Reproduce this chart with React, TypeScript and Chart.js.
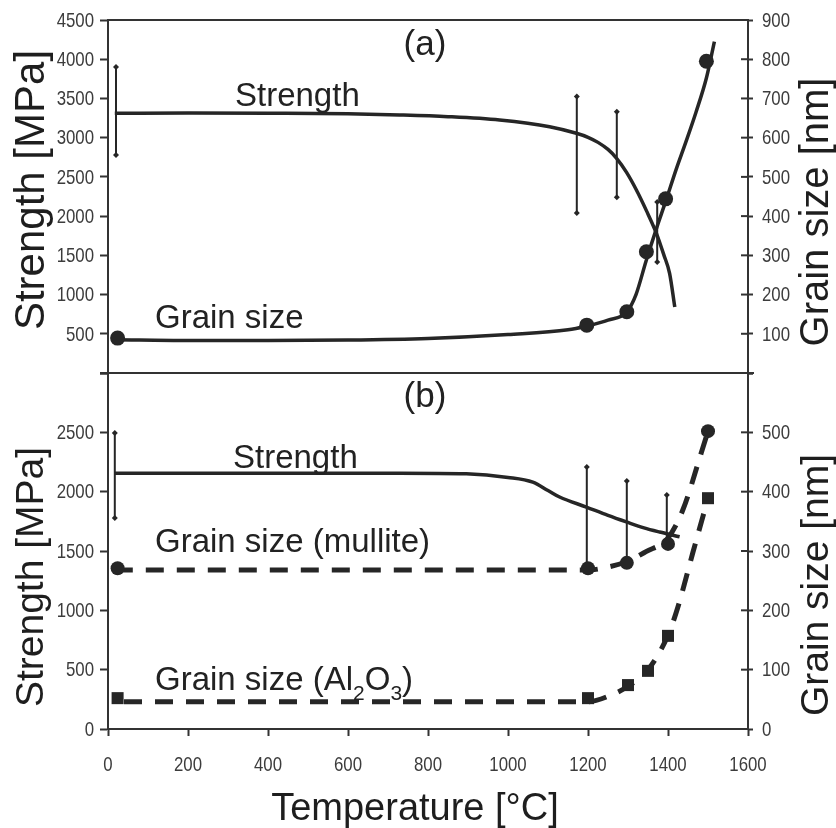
import { useEffect, useRef } from "react";
import { Chart, registerables } from "chart.js";

Chart.register(...registerables);

// Temperature axis (°C)
const temperatureMin = 0;
const temperatureMax = 1600;
const temperatureStep = 200;

// Panel (a): strength [MPa] on the left axis, grain size [nm] on the right axis
const strengthFitA: [number, number][] = [
  [17, 3310], [200, 3315], [400, 3312], [600, 3305], [729, 3290], [850, 3268],
  [979, 3225], [1104, 3140], [1171, 3056], [1200, 3005], [1225, 2940], [1250, 2850],
  [1271, 2740], [1296, 2560], [1321, 2333], [1346, 2070], [1371, 1781], [1390, 1500],
  [1404, 1271], [1417, 840],
];
// [temperature, low, high]
const strengthErrA: [number, number, number][] = [
  [20, 2780, 3900], [1172, 2040, 3525], [1272, 2240, 3330], [1373, 1415, 2180],
];
const grainFitA: [number, number][] = [
  [17, 85], [200, 83], [400, 83], [600, 84], [800, 88], [1000, 98], [1150, 110],
  [1197, 120], [1250, 135], [1297, 156], [1320, 200], [1345, 285], [1370, 365],
  [1395, 440], [1420, 518], [1445, 590], [1470, 665], [1496, 752], [1516, 845],
];
const grainPtsA: [number, number][] = [
  [24, 89], [1197, 122], [1297, 156], [1346, 309], [1394, 444], [1496, 795],
];

// Panel (b): strength [MPa] on the left axis, grain sizes [nm] on the right axis
const strengthFitB: [number, number][] = [
  [17, 2155], [300, 2155], [600, 2155], [729, 2155], [896, 2150], [1000, 2120],
  [1062, 2080], [1100, 2010], [1129, 1955], [1196, 1870], [1250, 1800],
  [1296, 1745], [1340, 1695], [1379, 1660], [1429, 1620],
];
const strengthErrB: [number, number, number][] = [
  [17, 1778, 2494], [1197, 1365, 2208], [1297, 1407, 2090], [1397, 1580, 1972],
];
const mulliteFit: [number, number][] = [
  [17, 268], [400, 268], [800, 268], [1200, 268], [1250, 273], [1300, 283],
  [1345, 299], [1400, 322], [1437, 369], [1483, 465], [1500, 502],
];
const mullitePts: [number, number][] = [
  [24, 271], [1200, 271], [1297, 280], [1400, 312], [1500, 502],
];
const aluminaFit: [number, number][] = [
  [40, 46], [400, 46], [800, 46], [1200, 46], [1250, 55], [1300, 72],
  [1350, 100], [1400, 158], [1425, 206], [1462, 297], [1500, 389],
];
const aluminaPts: [number, number][] = [
  [24, 52], [1200, 52], [1300, 74], [1350, 98], [1400, 157], [1500, 389],
];

const INK = "#262626";
const AXIS = "#333333";
const TICK_TEXT = "#3c3c3c";
const TEXT_FONT = "'Liberation Sans', Arial, sans-serif";

const xy = (pts: [number, number][]) => pts.map(([x, y]) => ({ x, y }));
const errorSegments = (bars: [number, number, number][]) =>
  bars.flatMap(([t, lo, hi]) => [
    { x: t, y: lo },
    { x: t, y: hi },
    { x: t, y: null as number | null },
  ]);

const fitLine = (data: any, yAxisID: string, dashed = false) => ({
  data,
  yAxisID,
  borderColor: INK,
  borderWidth: dashed ? 5 : 3.5,
  borderDash: dashed ? [18, 13] : [],
  pointRadius: 0,
  cubicInterpolationMode: "monotone" as const,
  fill: false,
  order: 2,
});

const markers = (data: any, yAxisID: string, style: string, radius: number) => ({
  data,
  yAxisID,
  showLine: false,
  pointStyle: style,
  pointRadius: radius,
  pointBackgroundColor: INK,
  pointBorderColor: INK,
  pointBorderWidth: 0,
  order: 0,
});

const errorBars = (data: any, yAxisID: string) => ({
  data,
  yAxisID,
  borderColor: INK,
  borderWidth: 2,
  spanGaps: false,
  pointStyle: "rectRot",
  pointRadius: 3,
  pointBackgroundColor: INK,
  pointBorderColor: INK,
  pointBorderWidth: 0,
  order: 1,
});

const fixedWidth = (w: number) => (scale: any) => {
  scale.width = w;
};

// tick labels are drawn in a narrow face: a regular sans squeezed horizontally
const drawNarrow = (
  ctx: CanvasRenderingContext2D,
  s: string,
  x: number,
  y: number,
  align: CanvasTextAlign
) => {
  ctx.save();
  ctx.translate(x, y);
  ctx.scale(0.8, 1);
  ctx.textAlign = align;
  ctx.fillText(s, 0, 0);
  ctx.restore();
};

const decorations = {
  id: "decorations",
  afterDraw(chart: any) {
    const ctx = chart.ctx as CanvasRenderingContext2D;
    const { left, right, top, bottom } = chart.chartArea;
    const { x: sx, yTL, yBL, yTR, yBR } = chart.scales;
    const seg = (x1: number, y1: number, x2: number, y2: number) => {
      ctx.beginPath();
      ctx.moveTo(x1, y1);
      ctx.lineTo(x2, y2);
      ctx.stroke();
    };
    ctx.save();
    ctx.strokeStyle = AXIS;
    ctx.lineWidth = 2;
    // frame top and the divider between the two panels
    seg(left - 1, top, right + 1, top);
    seg(left - 8, yBL.top, right + 6, yBL.top);
    // right-hand ticks cross the axis
    for (const s of [yTR, yBR]) {
      for (const t of s.ticks) {
        const y = s.getPixelForValue(t.value);
        seg(right - 7, y, right, y);
      }
    }

    // tick labels
    ctx.fillStyle = TICK_TEXT;
    ctx.textBaseline = "middle";
    ctx.font = `21px ${TEXT_FONT}`;
    const yLabels = (s: any, hidden: number, x: number, align: CanvasTextAlign) => {
      for (const t of s.ticks) {
        if (t.value === hidden) continue;
        drawNarrow(ctx, String(t.value), x, s.getPixelForValue(t.value) + 1, align);
      }
    };
    yLabels(yTL, 0, left - 14, "right");
    yLabels(yBL, 3000, left - 14, "right");
    yLabels(yTR, 0, right + 14, "left");
    yLabels(yBR, 600, right + 14, "left");
    for (const t of sx.ticks) {
      drawNarrow(ctx, String(t.value), sx.getPixelForValue(t.value), bottom + 36, "center");
    }

    // panel annotations
    ctx.fillStyle = "#222";
    ctx.textBaseline = "alphabetic";
    ctx.textAlign = "center";
    ctx.font = `35px ${TEXT_FONT}`;
    ctx.fillText("(a)", 425, 55);
    ctx.fillText("(b)", 425, 407);

    ctx.textAlign = "left";
    ctx.font = `33px ${TEXT_FONT}`;
    ctx.fillText("Strength", 235, 106);
    ctx.fillText("Strength", 233, 468);
    ctx.fillText("Grain size", 155, 328);
    ctx.fillText("Grain size (mullite)", 155, 552);

    // Grain size (Al2O3) with subscripts
    let x = 155;
    const part = (s: string, size: number, dy: number) => {
      ctx.font = `${size}px ${TEXT_FONT}`;
      ctx.fillText(s, x, 690 + dy);
      x += ctx.measureText(s).width;
    };
    part("Grain size (Al", 33, 0);
    part("2", 21, 10);
    part("O", 33, 0);
    part("3", 21, 10);
    part(")", 33, 0);

    // axis titles
    ctx.fillStyle = "#1e1e1e";
    ctx.textAlign = "center";
    const vertical = (s: string, size: number, cx: number, cy: number) => {
      ctx.save();
      ctx.font = `${size}px ${TEXT_FONT}`;
      ctx.translate(cx, cy);
      ctx.rotate(-Math.PI / 2);
      ctx.fillText(s, 0, 0);
      ctx.restore();
    };
    vertical("Strength [MPa]", 42, 44, 190);
    vertical("Strength [MPa]", 39, 43, 577);
    vertical("Grain size [nm]", 40, 828, 212);
    vertical("Grain size [nm]", 39, 828, 585);
    ctx.font = `38px ${TEXT_FONT}`;
    ctx.fillText("Temperature [°C]", 415, 820);
    ctx.restore();
  },
};

const yScale = (
  position: "left" | "right",
  max: number,
  step: number,
  weight: number,
  stackWeight: number,
  width: number
) => ({
  type: "linear" as const,
  position,
  stack: position,
  stackWeight,
  weight,
  min: 0,
  max,
  afterFit: fixedWidth(width),
  border: { display: true, color: AXIS, width: 2 },
  grid: {
    drawOnChartArea: false,
    drawTicks: true,
    tickLength: position === "left" ? 8 : 5,
    tickWidth: 2,
    tickColor: AXIS,
  },
  ticks: { stepSize: step, display: false, autoSkip: false },
});

export default function App() {
  const canvasRef = useRef<HTMLCanvasElement | null>(null);

  useEffect(() => {
    const canvas = canvasRef.current;
    if (!canvas) return;
    const chart = new Chart(canvas, {
      type: "line",
      data: {
        datasets: [
          markers(xy(grainPtsA), "yTR", "circle", 7.5),
          markers(xy(mullitePts), "yBR", "circle", 7),
          markers(xy(aluminaPts), "yBR", "rect", 8.5),
          errorBars(errorSegments(strengthErrA), "yTL"),
          errorBars(errorSegments(strengthErrB), "yBL"),
          fitLine(xy(strengthFitA), "yTL"),
          fitLine(xy(grainFitA), "yTR"),
          fitLine(xy(strengthFitB), "yBL"),
          fitLine(xy(mulliteFit), "yBR", true),
          fitLine(xy(aluminaFit), "yBR", true),
        ] as any,
      },
      options: {
        responsive: false,
        animation: false,
        devicePixelRatio: 1,
        layout: { padding: { top: 20, left: 0, right: 0, bottom: 0 } },
        plugins: {
          legend: { display: false },
          tooltip: { enabled: false },
          title: { display: false },
        },
        scales: {
          x: {
            type: "linear",
            position: "bottom",
            min: temperatureMin,
            max: temperatureMax,
            afterFit: (scale: any) => {
              scale.height = 99;
            },
            border: { display: true, color: AXIS, width: 2 },
            grid: {
              drawOnChartArea: false,
              drawTicks: true,
              tickLength: 7,
              tickWidth: 2,
              tickColor: AXIS,
            },
            ticks: { stepSize: temperatureStep, display: false, autoSkip: false },
          },
          yTL: yScale("left", 4500, 500, 2, 353, 108),
          yBL: yScale("left", 3000, 500, 1, 356, 108),
          yTR: yScale("right", 900, 100, 1, 353, 88),
          yBR: yScale("right", 600, 100, 2, 356, 88),
        } as any,
      },
      plugins: [decorations],
    });
    return () => chart.destroy();
  }, []);

  return (
    <div style={{ position: "fixed", left: 0, top: 0, width: 836, height: 828, background: "#fff" }}>
      <canvas ref={canvasRef} width={836} height={828} style={{ display: "block" }} />
    </div>
  );
}
